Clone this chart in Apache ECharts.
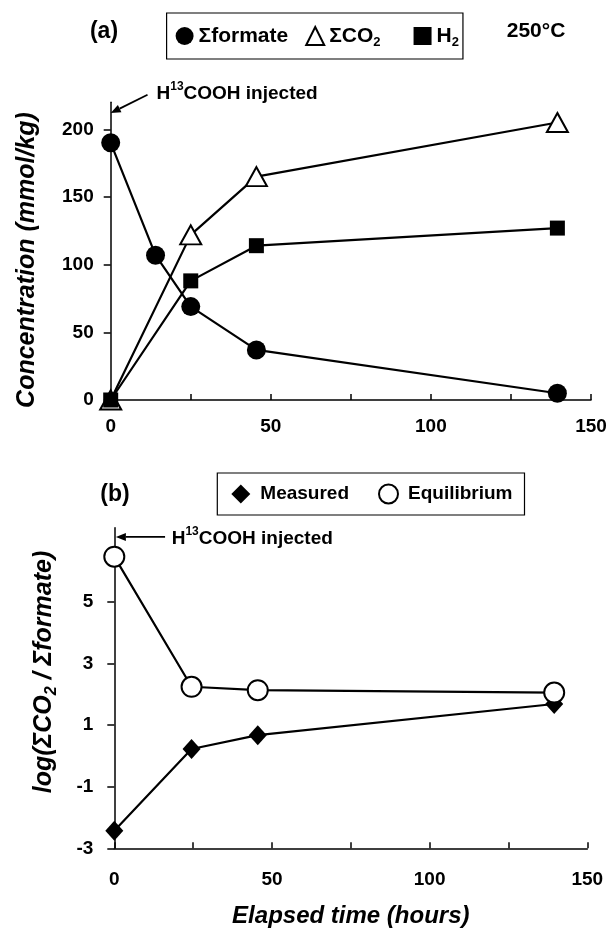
<!DOCTYPE html>
<html><head><meta charset="utf-8">
<script src="https://cdn.jsdelivr.net/npm/echarts@6/dist/echarts.min.js"></script>
<style>html,body{margin:0;padding:0;background:#fff}#c{width:611px;height:932px}</style>
</head><body><div id="c"></div>
<script>
// ---- data (panel a) ----
const timeFormate = [0, 14, 25, 45.5, 139.5];
const formate = [190, 107, 69, 37, 5];
const timeGas = [0, 25, 45.5, 139.5];
const sumCO2 = [0, 122, 165, 205];
const h2 = [0, 88, 114, 127];
// ---- data (panel b) ----
const timeB = [0, 24.5, 45.5, 139.5];
const measured = [-2.43, 0.22, 0.67, 1.68];
const equilibrium = [6.46, 2.24, 2.13, 2.05];
// ---- ticks ----
const xTickValues = [0, 25, 50, 75, 100, 125, 150];
const xLabelValues = [0, 50, 100, 150];
const yTicksA = [0, 50, 100, 150, 200];
const yTicksB = [-3, -1, 1, 3, 5];

const FF = "'Liberation Sans', Arial, Helvetica, sans-serif";
const pair = (xs, ys) => xs.map((x, i) => [x, ys[i]]);
const chart = echarts.init(document.getElementById('c'), null, {renderer: 'canvas'});

const black = '#000';
const subRich = {
  sub: {fontSize: 13, fontWeight: 'bold', fontFamily: FF, color: black, verticalAlign: 'bottom', lineHeight: 12},
  subp: {fontSize: 13, fontWeight: 'bold', fontFamily: FF, color: black, verticalAlign: 'bottom', lineHeight: 12, padding: [0, 16, 0, 0]},
  sup: {fontSize: 12, fontWeight: 'bold', fontFamily: FF, color: black, verticalAlign: 'top', lineHeight: 12}
};

function xAxisCfg(grid, margin, extra) {
  return Object.assign({
    type: 'value', gridIndex: grid, min: 0, max: 150, interval: 25,
    axisLine: {show: true, onZero: false, lineStyle: {color: black, width: 1.5}},
    axisTick: {show: true, inside: true, length: 6, customValues: xTickValues, lineStyle: {color: black, width: 1.5}},
    axisLabel: {customValues: xLabelValues, margin: margin, fontSize: 19, fontWeight: 'bold', color: black, fontFamily: FF},
    splitLine: {show: false}
  }, extra || {});
}
function yAxisCfg(grid, min, max, ticks, margin) {
  return {
    type: 'value', gridIndex: grid, min: min, max: max,
    axisLine: {show: true, onZero: false, lineStyle: {color: black, width: 1.5}},
    axisTick: {show: true, inside: false, length: 7, customValues: ticks, lineStyle: {color: black, width: 1.5}},
    axisLabel: {customValues: ticks, margin: margin, fontSize: 19, fontWeight: 'bold', color: black, fontFamily: FF},
    splitLine: {show: false}
  };
}
const lineBase = {type: 'line', clip: false, lineStyle: {color: black, width: 2.2}, animation: false, z: 3};

const option = {
  backgroundColor: '#fff',
  animation: false,
  grid: [
    {left: 110.7, right: 20, top: 102.2, bottom: 532},
    {left: 114.3, right: 23.7, top: 527.7, bottom: 83.7}
  ],
  xAxis: [
    xAxisCfg(0, 17),
    xAxisCfg(1, 22, {name: 'Elapsed time (hours)', nameLocation: 'middle', nameGap: 56,
      nameTextStyle: {fontSize: 24, fontWeight: 'bold', fontStyle: 'italic', color: black, fontFamily: FF}})
  ],
  yAxis: [
    yAxisCfg(0, 0, 220, yTicksA, 17),
    yAxisCfg(1, -3, 7.4, yTicksB, 21)
  ],
  legend: [
    {
      left: 166.6, top: 13, orient: 'horizontal', padding: [10, 4, 10, 9], itemGap: 17,
      itemWidth: 18, itemHeight: 18, borderColor: black, borderWidth: 1.2,
      data: [{name: 'Σformate', icon: 'circle'}, {name: 'ΣCO2', icon: 'triangle'}, {name: 'H2', icon: 'rect'}],
      formatter: n => n === 'ΣCO2' ? 'ΣCO{subp|2}' : (n === 'H2' ? 'H{sub|2}' : n),
      textStyle: {fontSize: 21, fontWeight: 'bold', color: black, fontFamily: FF, lineHeight: 26, rich: subRich}
    },
    {
      left: 217.3, top: 473, orient: 'horizontal', padding: [10, 12, 10, 14], itemGap: 29,
      itemWidth: 19, itemHeight: 19, borderColor: black, borderWidth: 1.2,
      data: [{name: 'Measured', icon: 'diamond'}, {name: 'Equilibrium', icon: 'circle'}],
      textStyle: {fontSize: 19, fontWeight: 'bold', color: black, fontFamily: FF, lineHeight: 22, padding: [0, 0, 0, 5]}
    }
  ],
  series: [
    Object.assign({}, lineBase, {name: 'Σformate', xAxisIndex: 0, yAxisIndex: 0, data: pair(timeFormate, formate),
      symbol: 'circle', symbolSize: 19, itemStyle: {color: black}}),
    Object.assign({}, lineBase, {name: 'ΣCO2', xAxisIndex: 0, yAxisIndex: 0, data: pair(timeGas, sumCO2),
      symbol: 'triangle', symbolSize: [21, 19], itemStyle: {color: '#fff', borderColor: black, borderWidth: 2}}),
    Object.assign({}, lineBase, {name: 'H2', xAxisIndex: 0, yAxisIndex: 0, data: pair(timeGas, h2),
      symbol: 'rect', symbolSize: 15, itemStyle: {color: black}}),
    Object.assign({}, lineBase, {name: 'Measured', xAxisIndex: 1, yAxisIndex: 1, data: pair(timeB, measured),
      symbol: 'diamond', symbolSize: [18, 20], itemStyle: {color: black}}),
    Object.assign({}, lineBase, {name: 'Equilibrium', xAxisIndex: 1, yAxisIndex: 1, data: pair(timeB, equilibrium),
      symbol: 'circle', symbolSize: 20, itemStyle: {color: '#fff', borderColor: black, borderWidth: 2}})
  ]
};
chart.setOption(option);

// annotations placed in data coordinates
function arrow(gridIdx, from, to) {
  const f = chart.convertToPixel({gridIndex: gridIdx}, from);
  const t = chart.convertToPixel({gridIndex: gridIdx}, to);
  const dx = t[0] - f[0], dy = t[1] - f[1], L = Math.hypot(dx, dy);
  const ux = dx / L, uy = dy / L, hl = 10, hw = 4;
  const bx = t[0] - ux * hl, by = t[1] - uy * hl;
  return [
    {type: 'line', shape: {x1: f[0], y1: f[1], x2: bx, y2: by}, style: {stroke: black, lineWidth: 1.8}, z: 10},
    {type: 'polygon', shape: {points: [[t[0], t[1]], [bx - uy * hw, by + ux * hw], [bx + uy * hw, by - ux * hw]]},
      style: {fill: black}, z: 10}
  ];
}
function txt(gridIdx, at) {
  const p = chart.convertToPixel({gridIndex: gridIdx}, at);
  return {type: 'text', x: p[0], y: p[1], z: 10,
    style: {text: 'H{sup|13}COOH injected', fontSize: 19, fontWeight: 'bold', fontFamily: FF, fill: black,
      verticalAlign: 'middle', align: 'left', lineHeight: 26, rich: subRich}};
}
const gfx = [].concat(
  arrow(0, [11.5, 225.5], [0, 212]),
  [txt(0, [14.3, 226])],
  arrow(1, [16.1, 7.1], [0.5, 7.1]),
  [txt(1, [18.2, 7.05])],
  [
    {type: 'text', x: 104, y: 32, style: {text: '(a)', fontSize: 23, fontWeight: 'bold', fontFamily: FF, fill: black, align: 'center', verticalAlign: 'middle'}},
    {type: 'text', x: 536, y: 31, style: {text: '250°C', fontSize: 21, fontWeight: 'bold', fontFamily: FF, fill: black, align: 'center', verticalAlign: 'middle'}},
    {type: 'text', x: 115, y: 495, style: {text: '(b)', fontSize: 23, fontWeight: 'bold', fontFamily: FF, fill: black, align: 'center', verticalAlign: 'middle'}},
    {type: 'text', x: 27, y: 260, rotation: Math.PI / 2,
      style: {text: 'Concentration (mmol/kg)', fontSize: 25, fontWeight: 'bold', fontStyle: 'italic', fontFamily: FF, fill: black, align: 'center', verticalAlign: 'middle'}},
    {type: 'text', x: 44, y: 672, rotation: Math.PI / 2,
      style: {text: 'log(ΣCO{s|2} / Σformate)', fontSize: 25, fontWeight: 'bold', fontStyle: 'italic', fontFamily: FF, fill: black, align: 'center', verticalAlign: 'middle', lineHeight: 31,
        rich: {s: {fontSize: 16, fontWeight: 'bold', fontStyle: 'italic', fontFamily: FF, fill: black, color: black, verticalAlign: 'bottom', lineHeight: 16}}}}
  ]
);
chart.setOption({graphic: gfx});
</script>
</body></html>
